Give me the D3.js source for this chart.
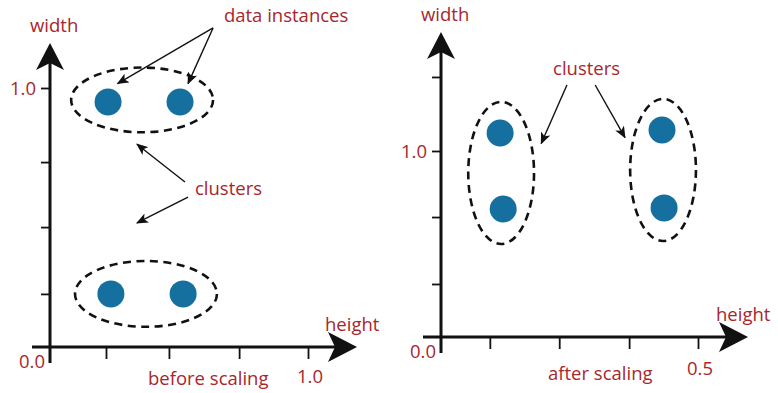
<!DOCTYPE html>
<html>
<head>
<meta charset="utf-8">
<script src="https://cdn.jsdelivr.net/npm/d3@7"></script>
<style>
  html, body { margin: 0; padding: 0; background: #fff; }
  svg { display: block; }
  text { font-family: "Open Sans", sans-serif; fill: #a8262c; font-size: 18.5px; }
</style>
</head>
<body>
<svg id="chart" width="778" height="393"></svg>
<script>
// ---------- data ----------
// Panel A: before scaling
const beforeXTicks = [0.217, 0.461, 0.733, 1.0];
const beforeYTicks = [0.205, 0.463, 0.714, 1.0];
const beforeXTickLabels = ["", "", "", "1.0"];
const beforeYTickLabels = ["", "", "", "1.0"];
const beforePointsX = [0.225, 0.504, 0.236, 0.516];
const beforePointsY = [0.946, 0.946, 0.205, 0.205];
const beforeClusterCX = [0.357, 0.372];
const beforeClusterCY = [0.954, 0.205];
const beforeClusterRX = [0.275, 0.275];
const beforeClusterRY = [0.125, 0.127];
// annotation arrows: [x1, y1, x2, y2] in data units
const beforeArrows = [
  [0.632, 1.232, 0.262, 1.017],
  [0.632, 1.232, 0.535, 1.017],
  [0.523, 0.637, 0.337, 0.783],
  [0.535, 0.579, 0.337, 0.479]
];

// Panel B: after scaling
const afterXTicks = [0.095, 0.23, 0.366, 0.5];
const afterYTicks = [0.285, 0.645, 1.0, 1.398];
const afterXTickLabels = ["", "", "", "0.5"];
const afterYTickLabels = ["", "", "1.0", ""];
const afterPointsX = [0.115, 0.121, 0.430, 0.434];
const afterPointsY = [1.097, 0.688, 1.113, 0.694];
const afterClusterCX = [0.117, 0.432];
const afterClusterCY = [0.882, 0.898];
const afterClusterRX = [0.064, 0.064];
const afterClusterRY = [0.382, 0.382];
const afterArrows = [
  [0.245, 1.355, 0.195, 1.040],
  [0.300, 1.355, 0.358, 1.072]
];

// ---------- drawing ----------
const svg = d3.select("#chart");
const defs = svg.append("defs");
defs.append("marker")
  .attr("id", "ah")
  .attr("viewBox", "0 0 12 10")
  .attr("refX", 11).attr("refY", 5)
  .attr("markerWidth", 12).attr("markerHeight", 10)
  .attr("markerUnits", "userSpaceOnUse")
  .attr("orient", "auto")
  .append("path")
  .attr("d", "M0,0 L12,5 L0,10 L3,5 Z")
  .attr("fill", "#111");

const dotColor = "#1570a0";

function panel(cfg) {
  const x = d3.scaleLinear().domain(cfg.xDomain).range(cfg.xRange);
  const y = d3.scaleLinear().domain(cfg.yDomain).range(cfg.yRange);
  const g = svg.append("g");
  const x0 = x(0), y0 = y(0);

  // ticks via d3 axes
  const xAxis = d3.axisBottom(x).tickValues(cfg.xTicks).tickSize(12).tickFormat(() => "");
  const yAxis = d3.axisLeft(y).tickValues(cfg.yTicks).tickSize(9).tickFormat(() => "");
  const gx = g.append("g").attr("transform", `translate(0,${y0})`).call(xAxis);
  const gy = g.append("g").attr("transform", `translate(${x0},0)`).call(yAxis);
  [gx, gy].forEach(a => {
    a.select(".domain").remove();
    a.selectAll(".tick line").attr("stroke", "#111").attr("stroke-width", 1.8);
  });

  // tick labels
  cfg.xTicks.forEach((v, i) => {
    if (!cfg.xTickLabels[i]) return;
    g.append("text").attr("x", x(v) + 2).attr("y", y0 + cfg.xLabelDy)
      .attr("text-anchor", "middle").text(cfg.xTickLabels[i]);
  });
  cfg.yTicks.forEach((v, i) => {
    if (!cfg.yTickLabels[i]) return;
    g.append("text").attr("x", x0 - 14).attr("y", y(v) + 7)
      .attr("text-anchor", "end").text(cfg.yTickLabels[i]);
  });
  g.append("text").attr("x", x0 - 5).attr("y", y0 + 21)
    .attr("text-anchor", "end").text("0.0");

  // axes lines
  g.append("line").attr("x1", x0).attr("x2", x0)
    .attr("y1", y0 + cfg.yExtBelow).attr("y2", cfg.yTop + 14)
    .attr("stroke", "#111").attr("stroke-width", 3);
  g.append("line").attr("x1", x0 - 18).attr("x2", cfg.xRight - 14)
    .attr("y1", y0).attr("y2", y0)
    .attr("stroke", "#111").attr("stroke-width", 3);
  // big arrowheads
  const t = cfg.yTop;
  g.append("path")
    .attr("d", `M${x0},${t} L${x0 + 14},${t + 27} L${x0},${t + 20} L${x0 - 14},${t + 27} Z`)
    .attr("fill", "#111");
  const r = cfg.xRight;
  g.append("path")
    .attr("d", `M${r},${y0} L${r - 29},${y0 + 15} L${r - 22},${y0} L${r - 29},${y0 - 15} Z`)
    .attr("fill", "#111");

  // axis titles
  g.append("text").attr("x", x0 - 20).attr("y", cfg.yTop - 11).text("width");
  g.append("text").attr("x", cfg.xRight - 32).attr("y", y0 - 16).text("height");
  g.append("text").attr("x", cfg.captionX).attr("y", y0 + cfg.captionDy).text(cfg.caption);

  // clusters
  cfg.cCX.forEach((cx, i) => {
    g.append("ellipse")
      .attr("cx", x(cx)).attr("cy", y(cfg.cCY[i]))
      .attr("rx", Math.abs(x(cfg.cRX[i]) - x(0)))
      .attr("ry", Math.abs(y(cfg.cRY[i]) - y(0)))
      .attr("fill", "none").attr("stroke", "#111")
      .attr("stroke-width", 2.6).attr("stroke-dasharray", "8,5.5");
  });

  // points
  g.selectAll("circle.pt").data(cfg.px).join("circle")
    .attr("class", "pt")
    .attr("cx", d => x(d)).attr("cy", (d, i) => y(cfg.py[i]))
    .attr("r", 13.5).attr("fill", dotColor);

  // annotation arrows
  cfg.arrows.forEach(a => {
    g.append("line")
      .attr("x1", x(a[0])).attr("y1", y(a[1]))
      .attr("x2", x(a[2])).attr("y2", y(a[3]))
      .attr("stroke", "#111").attr("stroke-width", 1.4)
      .attr("marker-end", "url(#ah)");
  });

  cfg.labels.forEach(l => {
    g.append("text").attr("x", x(l[1])).attr("y", y(l[2])).text(l[0]);
  });
}

panel({
  xDomain: [0, 1], xRange: [50, 308],
  yDomain: [0, 1], yRange: [347, 88],
  xTicks: beforeXTicks, yTicks: beforeYTicks,
  xTickLabels: beforeXTickLabels, yTickLabels: beforeYTickLabels,
  xLabelDy: 36, yExtBelow: 16, yTop: 43, xRight: 357,
  caption: "before scaling", captionX: 148, captionDy: 38,
  px: beforePointsX, py: beforePointsY,
  cCX: beforeClusterCX, cCY: beforeClusterCY, cRX: beforeClusterRX, cRY: beforeClusterRY,
  arrows: beforeArrows,
  labels: [["data instances", 0.674, 1.255], ["clusters", 0.562, 0.587]]
});

panel({
  xDomain: [0, 0.5], xRange: [441, 698],
  yDomain: [0, 1], yRange: [337, 151],
  xTicks: afterXTicks, yTicks: afterYTicks,
  xTickLabels: afterXTickLabels, yTickLabels: afterYTickLabels,
  xLabelDy: 38, yExtBelow: 16, yTop: 32, xRight: 748,
  caption: "after scaling", captionX: 548, captionDy: 43,
  px: afterPointsX, py: afterPointsY,
  cCX: afterClusterCX, cCY: afterClusterCY, cRX: afterClusterRX, cRY: afterClusterRY,
  arrows: afterArrows,
  labels: [["clusters", 0.218, 1.408]]
});
</script>
</body>
</html>
